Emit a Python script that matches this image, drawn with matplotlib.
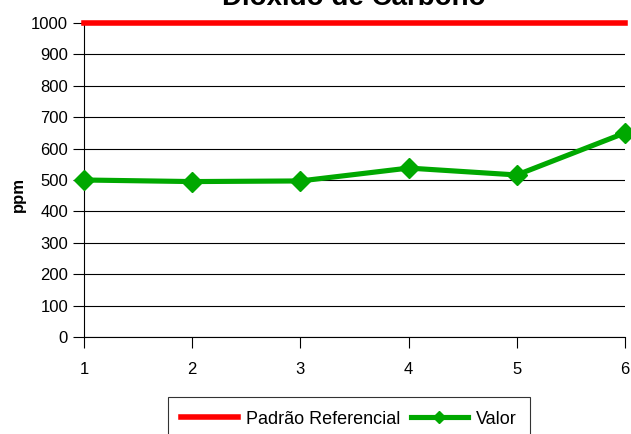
import matplotlib.pyplot as plt

# data
amostras = [1, 2, 3, 4, 5, 6]
valor = [500, 495, 497, 538, 516, 650]
padrao = [1000, 1000, 1000, 1000, 1000, 1000]
y_ticks = list(range(0, 1001, 100))

plt.rcParams['font.family'] = ['Liberation Sans', 'DejaVu Sans']

fig = plt.figure(figsize=(6.31, 4.34), dpi=100)
ax = fig.add_axes([84 / 631, 1 - 337 / 434, (625 - 84) / 631, (337 - 23) / 434])

for y in y_ticks:
    ax.axhline(y, color='black', lw=0.8, zorder=1)

ax.plot(amostras, padrao, color='#ff0000', lw=4, label='Padrão Referencial',
        clip_on=False, zorder=3)
ax.plot(amostras, valor, color='#00a800', lw=3.7, marker='D', markersize=10.5,
        label='Valor', clip_on=False, zorder=4)

ax.set_xlim(1, 6)
ax.set_ylim(0, 1000)
ax.set_xticks(amostras)
ax.set_yticks(y_ticks)
ax.tick_params(axis='both', direction='out', length=8, width=0.8,
               labelsize=12, colors='black')
ax.tick_params(axis='x', pad=10)
for side in ['top', 'right']:
    ax.spines[side].set_visible(False)
ax.spines['left'].set_linewidth(0.8)
ax.spines['bottom'].set_linewidth(0.8)

ax.set_ylabel('ppm', fontsize=12, fontweight='bold')
ax.yaxis.set_label_coords(-0.107, (337 - 195) / 314)

fig.text(354 / 631, 1 - 5 / 434, 'Dióxido de Carbono', ha='center', va='baseline',
         fontsize=20, fontweight='bold')

leg = ax.legend(loc='upper center', bbox_to_anchor=(349 / 631, 1 - 397 / 434),
                bbox_transform=fig.transFigure, borderaxespad=0, ncol=2,
                fontsize=13, frameon=True, fancybox=False, edgecolor='black',
                handlelength=3.15, handletextpad=0.45, columnspacing=0.55,
                borderpad=0.75, markerscale=0.6)
leg.get_frame().set_linewidth(0.8)

fig.savefig('out.png', dpi=100)
